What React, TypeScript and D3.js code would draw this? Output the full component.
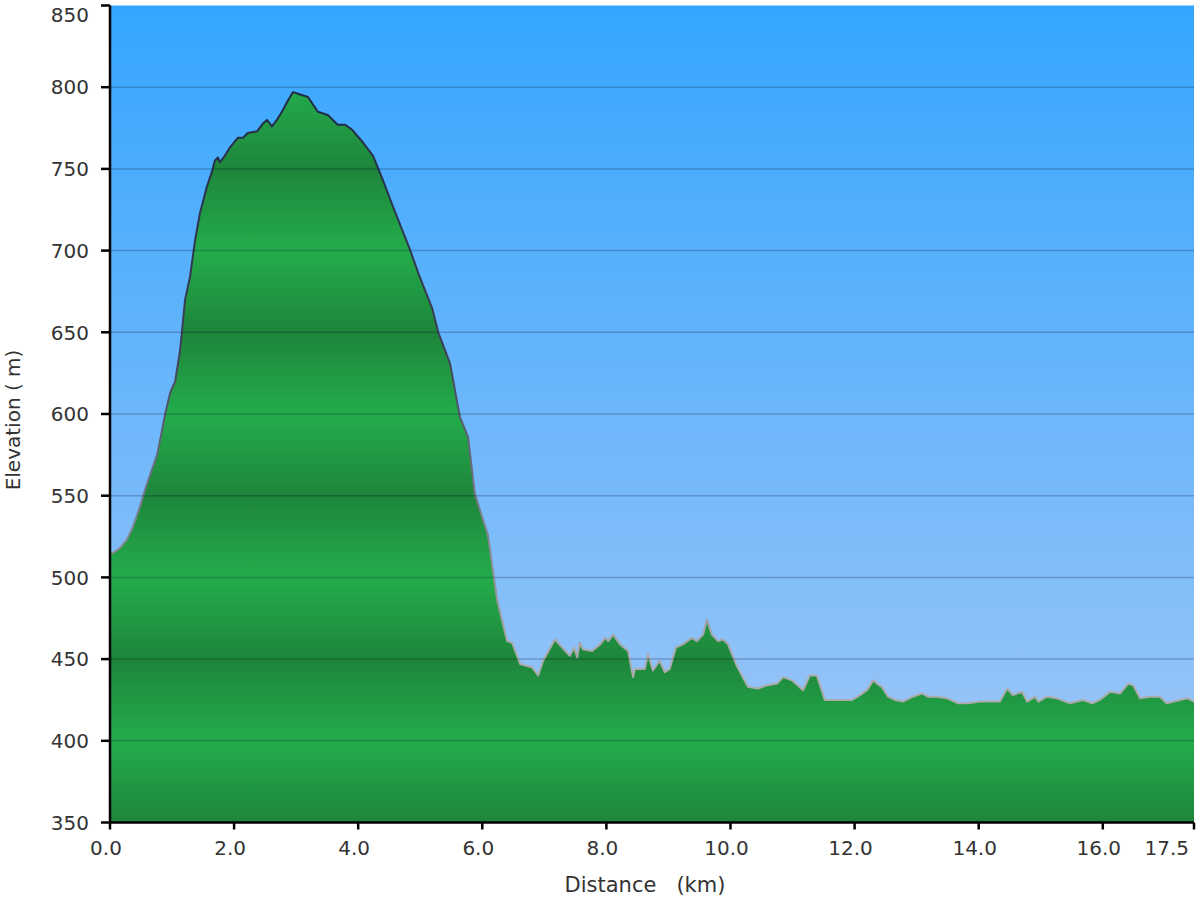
import React, { useEffect } from "react";
import * as d3 from "d3";

// distance along the route (km) and elevation (m)
const distanceKm = [
  0.0, 0.05, 0.16, 0.27, 0.37, 0.48, 0.56, 0.64, 0.76, 0.89, 0.97, 1.05, 1.13, 1.21, 1.29, 1.37,
  1.45, 1.56, 1.64, 1.69, 1.74, 1.77, 1.85, 1.93, 2.06, 2.14, 2.22, 2.37, 2.47, 2.53, 2.61, 2.69,
  2.77, 2.87, 2.95, 3.03, 3.19, 3.35, 3.51, 3.67, 3.79, 3.9, 4.08, 4.24, 4.4, 4.56, 4.83, 4.99,
  5.19, 5.29, 5.48, 5.64, 5.77, 5.88, 6.09, 6.24, 6.4, 6.48, 6.61, 6.8, 6.9, 6.98, 7.17, 7.41,
  7.48, 7.53, 7.57, 7.62, 7.77, 7.9, 7.98, 8.03, 8.11, 8.22, 8.35, 8.43, 8.46, 8.62, 8.67, 8.75,
  8.86, 8.94, 9.02, 9.12, 9.23, 9.38, 9.46, 9.56, 9.62, 9.7, 9.8, 9.88, 9.96, 10.1, 10.28, 10.44,
  10.59, 10.75, 10.85, 10.99, 11.17, 11.28, 11.39, 11.47, 11.52, 11.96, 12.05, 12.2, 12.3, 12.36,
  12.44, 12.54, 12.65, 12.78, 12.94, 13.09, 13.18, 13.33, 13.49, 13.67, 13.83, 14.02, 14.23,
  14.34, 14.46, 14.55, 14.7, 14.78, 14.91, 14.96, 15.1, 15.26, 15.47, 15.68, 15.83, 15.95, 16.12,
  16.28, 16.41, 16.49, 16.6, 16.76, 16.92, 17.03, 17.24, 17.37, 17.47,
];
const elevationM = [
  515, 515, 518, 523, 531, 543, 553, 562, 575, 600, 613, 620, 639, 670, 684, 706,
  723, 739, 748, 755, 757, 754, 758, 763, 769, 769, 772, 773, 778, 780, 776, 780,
  785, 792, 797, 796, 794, 785, 783, 777, 777, 774, 766, 758, 743, 727, 701, 684,
  665, 650, 631, 598, 586, 551, 526, 486, 461, 460, 447, 445, 440, 449, 462, 452,
  457, 451, 460, 456, 455, 459, 463, 461, 465, 459, 455, 439, 444, 444, 453, 443,
  449, 442, 444, 457, 459, 463, 461, 465, 474, 465, 461, 462, 459, 446, 433, 432,
  434, 435, 439, 437, 431, 440, 440, 431, 425, 425, 427, 431, 437, 435,
  433, 427, 425, 424, 427, 429, 427, 427, 426, 423, 423, 424, 424,
  424, 432, 428, 430, 424, 427, 424, 427, 426, 423, 425, 423, 425, 430,
  429, 435, 434, 426, 427, 427, 423, 425, 426, 424,
];
const xTicks = [0, 2, 4, 6, 8, 10, 12, 14, 16];
const xEndLabel = "17.5";
const yTicks = [350, 400, 450, 500, 550, 600, 650, 700, 750, 800, 850];

const data = distanceKm.map((d, i) => ({ d, e: elevationM[i] }));

const W = 1200;
const H = 900;
const left = 110;
const right = 1194;
const top = 5.5;
const bottom = 822.5;
const font = "'DejaVu Sans', Verdana, sans-serif";

export default function App() {
  useEffect(() => {
    document.body.style.margin = "0";
  }, []);

  const x = d3.scaleLinear().domain([0, 17.47]).range([left, right]);
  const y = d3.scaleLinear().domain([350, 850]).range([bottom, top]);

  const area = d3
    .area<{ d: number; e: number }>()
    .x((p) => x(p.d))
    .y0(bottom)
    .y1((p) => y(p.e));
  const line = d3
    .line<{ d: number; e: number }>()
    .x((p) => x(p.d))
    .y((p) => y(p.e));

  // banded green: light at 400/500/600/..., dark at 350/450/550/...
  const greenStops = d3.range(350, 851, 50).map((v) => ({
    off: (y(v) - top) / (bottom - top),
    col: ((v - 350) / 50) % 2 === 0 ? "#1e853b" : "#23ac4b",
  }));

  return (
    <svg width={W} height={H} style={{ display: "block" }}>
      <defs>
        <linearGradient id="sky" x1="0" y1={top} x2="0" y2={bottom} gradientUnits="userSpaceOnUse">
          <stop offset="0" stopColor="#35a6ff" />
          <stop offset="1" stopColor="#a4c8f7" />
        </linearGradient>
        <linearGradient id="ground" x1="0" y1={top} x2="0" y2={bottom} gradientUnits="userSpaceOnUse">
          {greenStops
            .slice()
            .reverse()
            .map((s, i) => (
              <stop key={i} offset={s.off} stopColor={s.col} />
            ))}
        </linearGradient>
        <linearGradient id="edge" x1="0" y1={y(800)} x2="0" y2={y(450)} gradientUnits="userSpaceOnUse">
          <stop offset="0" stopColor="#1f2a48" />
          <stop offset="0.45" stopColor="#3b3f55" />
          <stop offset="0.75" stopColor="#7c7f8c" />
          <stop offset="1" stopColor="#ababab" />
        </linearGradient>
      </defs>

      <rect x={left} y={top} width={right - left} height={bottom - top} fill="url(#sky)" />
      <path d={area(data) ?? ""} fill="url(#ground)" />
      <path d={line(data) ?? ""} fill="none" stroke="url(#edge)" strokeWidth={2} strokeLinejoin="round" />

      {/* grid lines */}
      {yTicks
        .filter((v) => v > 350 && v < 850)
        .map((v) => (
          <line key={v} x1={left} x2={right} y1={y(v)} y2={y(v)} stroke="rgba(0,10,40,0.22)" strokeWidth={1.5} />
        ))}

      {/* axes */}
      <line x1={left} x2={left} y1={top} y2={bottom + 1} stroke="#000" strokeWidth={2.5} />
      <line x1={left - 1} x2={right} y1={bottom} y2={bottom} stroke="#000" strokeWidth={2.5} />

      {yTicks.map((v) => (
        <g key={v}>
          <line x1={left - 9} x2={left} y1={y(v)} y2={y(v)} stroke="#000" strokeWidth={2.5} />
          <text
            x={89}
            y={Math.max(y(v), 14.5)}
            dy="0.36em"
            textAnchor="end"
            fontFamily={font}
            fontSize={20}
            fill="#333"
          >
            {v}
          </text>
        </g>
      ))}

      {xTicks.map((v) => (
        <g key={v}>
          <line x1={x(v)} x2={x(v)} y1={bottom} y2={bottom + 7} stroke="#000" strokeWidth={2.5} />
          <text x={x(v) - 4} y={855} textAnchor="middle" fontFamily={font} fontSize={20} fill="#333">
            {v.toFixed(1)}
          </text>
        </g>
      ))}
      <line x1={right} x2={right} y1={bottom} y2={bottom + 7} stroke="#000" strokeWidth={2.5} />
      <text x={right - 5} y={855} textAnchor="end" fontFamily={font} fontSize={20} fill="#333">
        {xEndLabel}
      </text>

      <text
        transform={`translate(20,420) rotate(-90)`}
        textAnchor="middle"
        fontFamily={font}
        fontSize={20}
        fill="#333"
      >
        Elevation ( m)
      </text>
      <text
        x={645}
        y={892}
        textAnchor="middle"
        fontFamily={font}
        fontSize={21}
        fill="#333"
        style={{ whiteSpace: "pre" }}
      >
        {"Distance   (km)"}
      </text>
    </svg>
  );
}
